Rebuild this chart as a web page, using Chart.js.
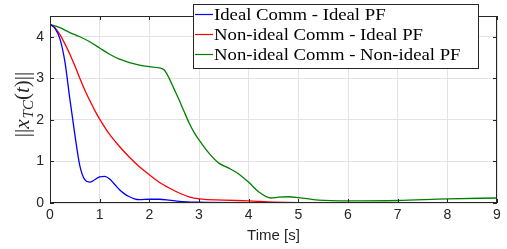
<!DOCTYPE html>
<html>
<head>
<meta charset="utf-8">
<script src="https://cdn.jsdelivr.net/npm/chart.js@4.4.1/dist/chart.umd.min.js"></script>
<style>
  html, body { margin: 0; padding: 0; background: #fff; }
  #wrap { width: 507px; height: 249px; }
</style>
</head>
<body>
<div id="wrap"><canvas id="chart"></canvas></div>
<script>
// values
const seriesLabels = ['Ideal Comm - Ideal PF', 'Non-ideal Comm - Ideal PF', 'Non-ideal Comm - Non-ideal PF'];

const timeIdeal = [0, 0.1, 0.2, 0.3, 0.4, 0.5, 0.6, 0.7, 0.8, 0.9, 1.0, 1.1, 1.2, 1.3, 1.4, 1.5, 1.6, 1.7, 1.8, 2.0, 2.2, 2.4, 2.6, 3.0, 4.0, 5.0, 6.0, 7.0, 8.0, 9.0];
const normIdeal = [4.3, 4.2, 3.95, 3.4, 2.5, 1.65, 0.9, 0.56, 0.5, 0.56, 0.63, 0.64, 0.58, 0.45, 0.32, 0.22, 0.15, 0.1, 0.08, 0.09, 0.09, 0.07, 0.04, 0.02, 0.01, 0.005, 0.005, 0.005, 0.005, 0.005];

const timeCommOnly = [0, 0.1, 0.2, 0.3, 0.4, 0.5, 0.6, 0.7, 0.8, 0.9, 1.0, 1.2, 1.4, 1.6, 1.8, 2.0, 2.2, 2.4, 2.6, 2.8, 3.0, 3.5, 4.0, 4.5, 5.0, 6.0, 7.0, 8.0, 9.0];
const normCommOnly = [4.3, 4.22, 4.05, 3.83, 3.58, 3.3, 3.0, 2.72, 2.47, 2.23, 2.02, 1.65, 1.36, 1.1, 0.87, 0.68, 0.5, 0.36, 0.24, 0.15, 0.1, 0.07, 0.05, 0.02, 0.01, 0.01, 0.01, 0.01, 0.01];

const timeBoth = [0, 0.2, 0.4, 0.6, 0.8, 1.0, 1.2, 1.4, 1.6, 1.8, 2.0, 2.2, 2.3, 2.4, 2.5, 2.6, 2.7, 2.8, 2.9, 3.0, 3.2, 3.4, 3.6, 3.8, 4.0, 4.2, 4.45, 4.6, 4.8, 5.0, 5.4, 6.0, 7.0, 8.0, 9.0];
const normBoth = [4.3, 4.22, 4.1, 4.0, 3.88, 3.73, 3.58, 3.46, 3.38, 3.32, 3.28, 3.25, 3.2, 3.0, 2.74, 2.48, 2.2, 1.93, 1.7, 1.52, 1.2, 0.96, 0.84, 0.7, 0.5, 0.27, 0.12, 0.14, 0.15, 0.13, 0.07, 0.05, 0.06, 0.1, 0.12];

const xTicks = [0, 1, 2, 3, 4, 5, 6, 7, 8, 9];
const yTicks = [0, 1, 2, 3, 4];

const toPoints = (xs, ys) => xs.map((t, i) => ({ x: t, y: ys[i] }));

// box around the axes with MATLAB-style inward ticks
const axesFrame = {
  id: 'axesFrame',
  afterDatasetsDraw(chart) {
    const { ctx, chartArea: a, scales: { x, y } } = chart;
    const seg = (x1, y1, x2, y2) => { ctx.beginPath(); ctx.moveTo(x1, y1); ctx.lineTo(x2, y2); ctx.stroke(); };
    ctx.save();
    ctx.strokeStyle = '#262626';
    ctx.lineWidth = 1;
    ctx.strokeRect(a.left + 0.5, a.top + 0.5, a.right - a.left - 1, a.bottom - a.top - 1);
    xTicks.forEach(v => {
      const p = Math.round(x.getPixelForValue(v)) + 0.5;
      seg(p, a.bottom, p, a.bottom - 4);
      seg(p, a.top, p, a.top + 4);
    });
    yTicks.forEach(v => {
      const p = Math.round(y.getPixelForValue(v)) + 0.5;
      seg(a.left, p, a.left + 4, p);
      seg(a.right, p, a.right - 4, p);
    });
    ctx.restore();
  }
};

// legend box drawn over the top right of the axes
const boxLegend = {
  id: 'boxLegend',
  afterDraw(chart) {
    const { ctx } = chart;
    const left = 193, top = 4, w = 285, h = 64;
    ctx.save();
    ctx.fillStyle = '#fff';
    ctx.fillRect(left, top, w, h);
    ctx.strokeStyle = '#262626';
    ctx.lineWidth = 1;
    ctx.strokeRect(left + 0.5, top + 0.5, w, h);
    ctx.font = '16px "Liberation Serif", "DejaVu Serif", serif';
    ctx.textBaseline = 'middle';
    chart.data.datasets.forEach((ds, i) => {
      const cy = 14.5 + i * 20;
      ctx.strokeStyle = ds.borderColor;
      ctx.lineWidth = 1.2;
      ctx.beginPath();
      ctx.moveTo(left + 2, cy);
      ctx.lineTo(left + 20, cy);
      ctx.stroke();
      // Computer Modern is wider than Times, stretch the text a little
      ctx.save();
      ctx.translate(left + 21, cy + 1);
      ctx.scale(1.17, 1);
      ctx.fillStyle = '#000';
      ctx.fillText(ds.label, 0, 0);
      ctx.restore();
    });
    ctx.restore();
  }
};

// y axis title ||x_TC(t)|| in math style
const yTitle = {
  id: 'yTitle',
  afterDraw(chart) {
    const { ctx } = chart;
    const big = '21px "Liberation Serif", "DejaVu Serif", serif';
    const bigIt = 'italic 21px "Liberation Serif", "DejaVu Serif", serif';
    const small = 'italic 15px "Liberation Serif", "DejaVu Serif", serif';
    const parts = [
      { t: '||', f: big, dy: 0 },
      { t: 'x', f: bigIt, dy: 0 },
      { t: 'TC', f: small, dy: 4 },
      { t: '(', f: big, dy: 0 },
      { t: 't', f: bigIt, dy: 0 },
      { t: ')', f: big, dy: 0 },
      { t: '||', f: big, dy: 0 }
    ];
    ctx.save();
    let total = 0;
    parts.forEach(p => { ctx.font = p.f; p.w = ctx.measureText(p.t).width; total += p.w; });
    ctx.translate(29, 105);
    ctx.rotate(-Math.PI / 2);
    ctx.fillStyle = '#262626';
    ctx.textBaseline = 'alphabetic';
    let cx = -total / 2;
    parts.forEach(p => {
      ctx.font = p.f;
      ctx.fillText(p.t, cx, p.dy);
      cx += p.w + (p.t === 'x' ? 1 : 0);
    });
    ctx.restore();
  }
};

const makeSet = (label, data, color) => ({
  label,
  data,
  borderColor: color,
  backgroundColor: color,
  borderWidth: 1.3,
  pointRadius: 0,
  fill: false,
  cubicInterpolationMode: 'monotone'
});

new Chart(document.getElementById('chart'), {
  type: 'line',
  data: {
    datasets: [
      makeSet(seriesLabels[0], toPoints(timeIdeal, normIdeal), '#0000ff'),
      makeSet(seriesLabels[1], toPoints(timeCommOnly, normCommOnly), '#ff0000'),
      makeSet(seriesLabels[2], toPoints(timeBoth, normBoth), '#008000')
    ]
  },
  options: {
    responsive: true,
    maintainAspectRatio: false,
    animation: false,
    layout: { padding: { top: 16, right: 10, left: 0, bottom: 0 } },
    plugins: {
      legend: { display: false },
      tooltip: { enabled: false }
    },
    scales: {
      x: {
        type: 'linear',
        min: 0,
        max: 9,
        afterBuildTicks: s => { s.ticks = xTicks.map(v => ({ value: v })); },
        afterFit: s => { s.height = 46; },
        grid: { color: '#e3e3e3', tickLength: 0, drawTicks: false },
        border: { display: false },
        ticks: { color: '#262626', font: { family: '"Liberation Sans", Arial, sans-serif', size: 14 }, padding: 4, maxRotation: 0 },
        title: { display: true, text: 'Time [s]', color: '#262626', font: { family: '"Liberation Sans", Arial, sans-serif', size: 15 }, padding: { top: 2, bottom: 4 } }
      },
      y: {
        min: 0,
        max: 4.5,
        afterBuildTicks: s => { s.ticks = yTicks.map(v => ({ value: v })); },
        afterFit: s => { s.width = 50; },
        grid: { color: '#e3e3e3', tickLength: 0, drawTicks: false },
        border: { display: false },
        ticks: { color: '#262626', font: { family: '"Liberation Sans", Arial, sans-serif', size: 14 }, padding: 6 }
      }
    }
  },
  plugins: [axesFrame, yTitle, boxLegend]
});
</script>
</body>
</html>
